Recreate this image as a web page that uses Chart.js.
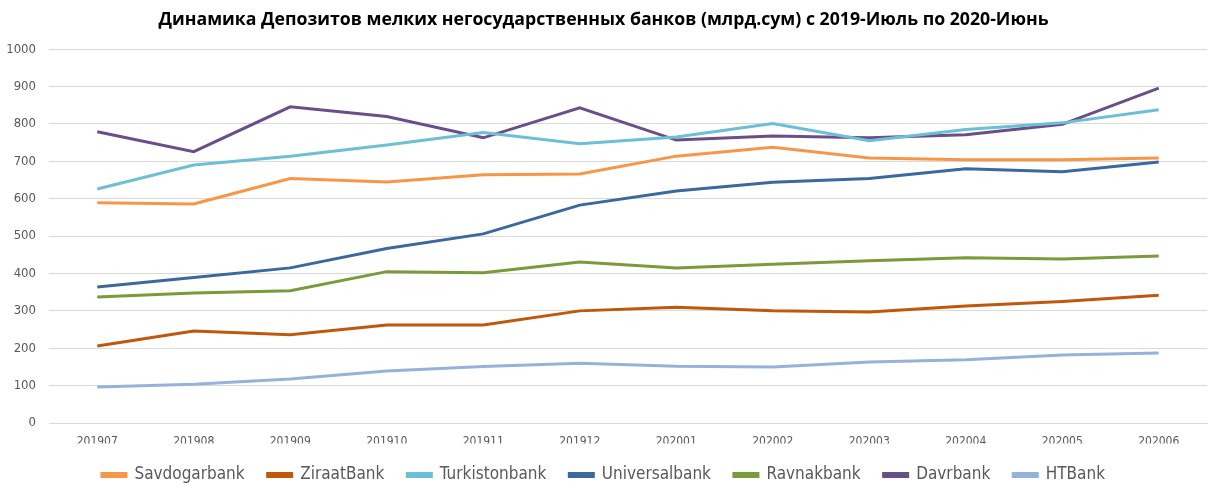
<!DOCTYPE html>
<html>
<head>
<meta charset="utf-8">
<script src="https://cdn.jsdelivr.net/npm/chart.js@4"></script>
<style>
  html, body { margin: 0; padding: 0; background: #fff; }
  #wrap { width: 1225px; height: 495px; }
</style>
</head>
<body>
<div id="wrap"><canvas id="grafico"></canvas></div>
<script>
const meses = ["201907", "201908", "201909", "201910", "201911", "201912",
  "202001", "202002", "202003", "202004", "202005", "202006"];

const savdogarbank = [589, 586, 654, 645, 664, 666, 714, 738, 709, 704, 704, 709];
const ziraatBank = [206, 246, 236, 262, 262, 300, 310, 300, 297, 313, 325, 342];
const turkistonbank = [626, 690, 714, 744, 777, 747, 765, 801, 755, 785, 803, 838];
const universalbank = [364, 389, 415, 467, 506, 583, 621, 644, 654, 680, 672, 698];
const ravnakbank = [337, 348, 354, 405, 402, 431, 415, 425, 434, 442, 439, 447];
const davrbank = [779, 726, 846, 820, 763, 843, 757, 768, 763, 771, 799, 896];
const htBank = [96, 104, 118, 139, 151, 160, 152, 150, 163, 169, 182, 187];

const fuente = "'Liberation Sans Narrow', 'DejaVu Sans Condensed', 'Liberation Sans', sans-serif";

function serie(nombre, datos, color) {
  return {
    label: nombre,
    data: datos,
    borderColor: color,
    backgroundColor: color,
    borderWidth: 3,
    pointRadius: 0,
    pointHoverRadius: 0,
    tension: 0,
    fill: false,
  };
}

const canvas = document.getElementById("grafico");

new Chart(canvas, {
  type: "line",
  data: {
    labels: meses,
    datasets: [
      serie("Savdogarbank", savdogarbank, "#F79646"),
      serie("ZiraatBank", ziraatBank, "#C0580C"),
      serie("Turkistonbank", turkistonbank, "#6CBFD4"),
      serie("Universalbank", universalbank, "#3B689E"),
      serie("Ravnakbank", ravnakbank, "#7A9A3C"),
      serie("Davrbank", davrbank, "#6A4E8A"),
      serie("HTBank", htBank, "#95B3D7"),
    ],
  },
  options: {
    responsive: true,
    maintainAspectRatio: false,
    animation: false,
    layout: {
      padding: { left: 0, right: 18, top: 6, bottom: 1.5 },
    },
    plugins: {
      title: {
        display: true,
        text: "Динамика Депозитов мелких негосударственных банков (млрд.сум) с 2019-Июль по 2020-Июнь",
        color: "#000",
        font: { family: "'Open Sans', sans-serif", size: 17.7, weight: "bold" },
        padding: { top: 3, bottom: 19 },
      },
      legend: {
        position: "bottom",
        labels: {
          color: "#595959",
          font: { family: fuente, size: 17 },
          boxWidth: 24,
          boxHeight: 3,
          padding: 23,
        },
      },
      tooltip: { enabled: false },
    },
    scales: {
      x: {
        offset: true,
        grid: { display: false },
        border: { display: true, color: "#d9d9d9" },
        ticks: {
          color: "#595959",
          font: { family: fuente, size: 12 },
          maxRotation: 0,
          padding: 4,
        },
        afterFit: (eje) => {
          eje.height = 20.5;
        },
      },
      y: {
        min: 0,
        max: 1000,
        grid: { color: "#d9d9d9", lineWidth: 1, drawTicks: false },
        border: { display: false },
        ticks: {
          stepSize: 100,
          color: "#595959",
          font: { family: fuente, size: 13 },
          padding: 13,
          callback: (v) => String(v),
        },
        afterFit: (eje) => {
          eje.width = 49;
        },
      },
    },
  },
});
</script>
</body>
</html>
